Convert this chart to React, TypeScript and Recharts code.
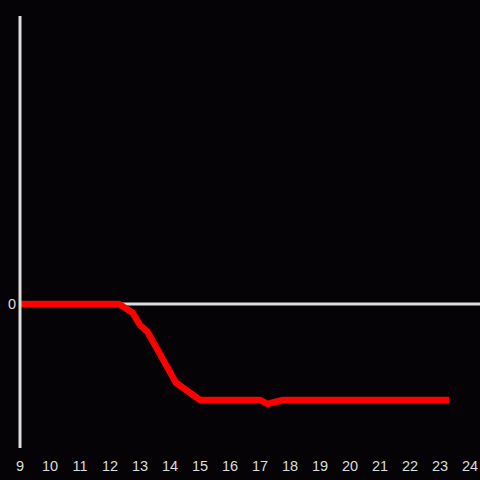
import React from "react";
import { LineChart, Line, XAxis, YAxis, ReferenceLine } from "recharts";

const hours = [9, 12.3, 12.75, 13.0, 13.25, 14.2, 15.0, 17.0, 17.25, 17.75, 23.3];
const values = [0, 0, -0.09, -0.22, -0.29, -0.82, -1.0, -1.0, -1.04, -1.0, -1.0];
const xTicks = [9, 10, 11, 12, 13, 14, 15, 16, 17, 18, 19, 20, 21, 22, 23, 24];
const yTicks = [0];

const data = hours.map((h, i) => ({ h, v: values[i] }));

export default function App() {
  return (
    <div style={{ position: "absolute", left: 0, top: 0, width: 480, height: 480, background: "#050305" }}>
      <LineChart width={480} height={480} data={data} margin={{ top: 16, right: 0, bottom: 0, left: 0 }}>
        <XAxis
          dataKey="h"
          type="number"
          domain={[9, 24.3333]}
          ticks={xTicks}
          allowDataOverflow
          axisLine={false}
          tickLine={false}
          height={32}
          tickMargin={7}
          tick={{ fill: "#dddddd", fontSize: 14.5, fontFamily: "Liberation Sans" }}
        />
        <YAxis
          type="number"
          domain={[-1.5, 3]}
          ticks={yTicks}
          allowDataOverflow
          width={20}
          tickLine={false}
          tickSize={0}
          tickMargin={4}
          axisLine={{ stroke: "#dddddd", strokeWidth: 3 }}
          tick={{ fill: "#dddddd", fontSize: 14.5, fontFamily: "Liberation Sans" }}
        />
        <ReferenceLine y={0} stroke="#dddddd" strokeWidth={3} />
        <Line
          dataKey="v"
          type="linear"
          stroke="#ff0000"
          strokeWidth={6.5}
          dot={false}
          isAnimationActive={false}
        />
      </LineChart>
    </div>
  );
}
